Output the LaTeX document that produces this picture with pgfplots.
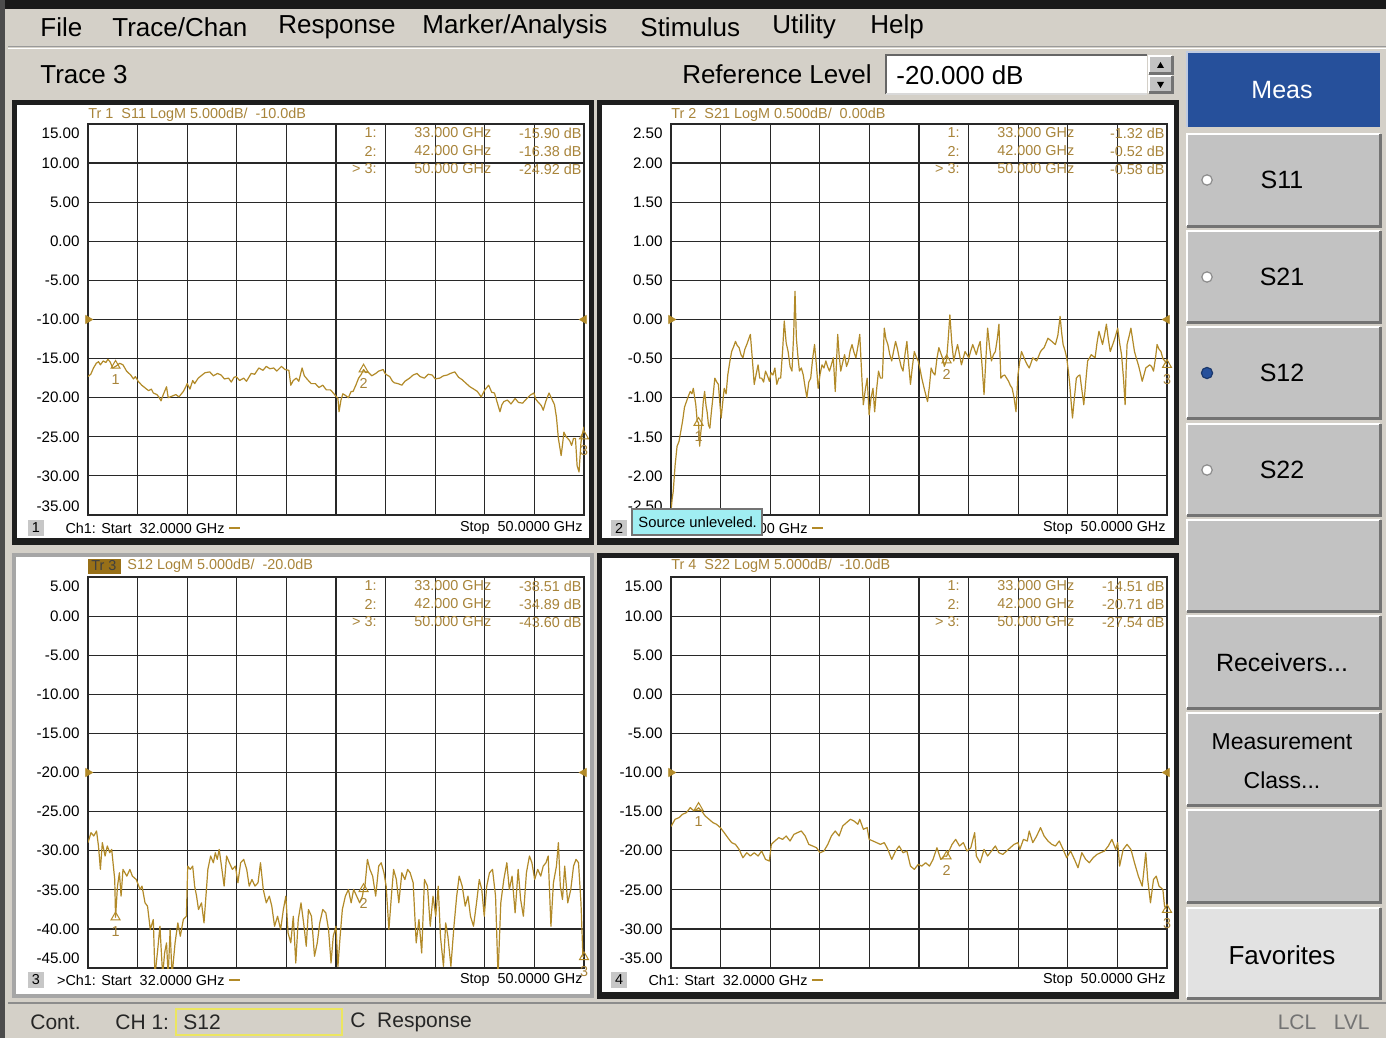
\documentclass[border=0pt]{standalone}
\usepackage{fontspec}
\setmainfont{Liberation Sans}
\usepackage{pgfplots}
\pgfplotsset{compat=1.18}
\definecolor{bg}{RGB}{212,208,200}
\definecolor{btn}{RGB}{194,194,194}
\definecolor{btnlight}{RGB}{226,226,226}
\definecolor{trc}{RGB}{178,138,40}
\definecolor{mtext}{RGB}{168,132,58}
\definecolor{measblue}{RGB}{38,80,155}
\definecolor{frm}{RGB}{30,30,30}
\definecolor{gridc}{RGB}{40,40,40}
\definecolor{hl}{RGB}{152,112,24}
\definecolor{cyanbox}{RGB}{160,238,242}
\definecolor{ylw}{RGB}{236,230,96}
\newcommand\uif{\fontsize{13}{15}\selectfont}
\newcommand\btnf{\fontsize{12.5}{14}\selectfont}
\newcommand\tkf{\fontsize{7.6}{9}\selectfont}
\newcommand\smf{\fontsize{7.2}{8.5}\selectfont}
\newcommand\stf{\fontsize{10.5}{12}\selectfont}
\newcommand\btn[5][btn]{\fill[#1] (#2,#3) rectangle (#4,#5);
  \draw[white,line width=1pt] (#2,#5) -- (#2,#3) -- (#4,#3);
  \draw[black!55,line width=1.5pt] (#2,#5) -- (#4,#5) -- (#4,#3);}
\newcommand\strip[4]{% plot x, strip y, number, prefix
  \fill[black!22] (#1-60,#2-8) rectangle (#1-44,#2+8);
  \node[font=\smf,inner sep=0pt] at (#1-52,#2) {#3};
  \node[font=\smf,inner sep=0pt,anchor=east] at (#1+137,#2) {#4Ch1: Start~~32.0000 GHz};
  \draw[trc,line width=0.8pt] (#1+141,#2) -- (#1+152,#2);
  \node[font=\smf,inner sep=0pt,anchor=east] at (#1+495,#2) {Stop~~50.0000 GHz};}
\newcommand\mtable[5]{% plot x, row1 y, values
  \begin{scope}[every node/.style={font=\smf,text=mtext,inner sep=0pt}]
  \node[anchor=east] at (#1+289,#2) {1:};
  \node[anchor=east] at (#1+289,#2+18) {2:};
  \node[anchor=east] at (#1+289,#2+36) {>~3:};
  \node[anchor=west] at (#1+326,#2) {33.000 GHz};
  \node[anchor=west] at (#1+326,#2+18) {42.000 GHz};
  \node[anchor=west] at (#1+326,#2+36) {50.000 GHz};
  \node[anchor=east] at (#1+494,#2) {#3 dB};
  \node[anchor=east] at (#1+494,#2+18) {#4 dB};
  \node[anchor=east] at (#1+494,#2+36) {#5 dB};
  \end{scope}}
\pgfplotsset{
  vna/.style={scale only axis, width=248pt, height=195.5pt, anchor=north west,
    xmin=32, xmax=50,
    xtick={33.8,35.6,37.4,39.2,41.0,42.8,44.6,46.4,48.2},
    xticklabels={},
    major tick length=0pt,
    grid=major,
    major grid style={gridc,line width=0.6pt},
    axis line style={gridc,line width=0.6pt},
    yticklabel style={font=\tkf,inner sep=0pt,xshift=-4pt},
    clip=true},
  trline/.style={trc,line width=0.6pt,no marks,line join=round},
  refl/.style={only marks,mark=triangle*,mark size=2.3pt,trc,mark options={rotate=-90}},
  refr/.style={only marks,mark=triangle*,mark size=2.3pt,trc,mark options={rotate=90}},
  mkr/.style={only marks,mark=triangle,mark size=2.6pt,trc,line width=0.5pt,
    nodes near coords,point meta=explicit symbolic,
    every node near coord/.append style={anchor=north,font=\smf,text=mtext,yshift=-1pt}}
}
\begin{document}
\begin{tikzpicture}
\begin{scope}[x=0.5pt,y=-0.5pt]
% background
\fill[bg] (0,0) rectangle (1386,1038);
\fill[black!90] (0,0) rectangle (1386,9);
\fill[black!70] (0,0) rectangle (5,1038);
% menu bar
\begin{scope}[every node/.style={font=\uif,inner sep=0pt,anchor=west}]
\node at (40,27) {File};
\node at (112,27) {Trace/Chan};
\node at (278,27) {Response};
\node at (422,27) {Marker/Analysis};
\node at (640,27) {Stimulus};
\node at (772,27) {Utility};
\node at (870,27) {Help};
\end{scope}
\draw[black!40,line width=0.5pt] (8,47) -- (1386,47);
\draw[white,line width=0.5pt] (8,48.5) -- (1386,48.5);
% toolbar
\node[font=\uif,inner sep=0pt,anchor=west] at (40,75) {Trace 3};
\node[font=\uif,inner sep=0pt,anchor=east] at (872,74) {Reference Level};
\fill[white] (886,55) rectangle (1147,94);
\draw[black!60,line width=1pt] (886,94) -- (886,55) -- (1147,55);
\draw[black!15,line width=1pt] (886,94) -- (1147,94);
\node[font=\uif,inner sep=0pt,anchor=west] at (896,75) {-20.000 dB};
\btn{1149}{56}{1172}{74}
\btn{1149}{76}{1172}{93}
\fill[black] (1157,68) -- (1164,68) -- (1160.5,62) -- cycle;
\fill[black] (1157,82) -- (1164,82) -- (1160.5,88) -- cycle;
% panel frames
\filldraw[fill=white,draw=frm,line width=2.5pt] (14.5,102.5) rectangle (591.5,542);
\filldraw[fill=white,draw=frm,line width=2.5pt] (599.5,102.5) rectangle (1176.5,542);
\filldraw[fill=white,draw=black!35,line width=2pt] (14,555) rectangle (592,996);
\filldraw[fill=white,draw=frm,line width=2.5pt] (599.5,555.5) rectangle (1176.5,996);
\fill[frm] (12,538) rectangle (594,545);
\fill[frm] (597,538) rectangle (1179,545);
\fill[frm] (597,992) rectangle (1179,999);
\end{scope}

% ---------- Panel 1: S11 ----------
\begin{axis}[vna, at={(44pt,-62pt)}, ymin=-35, ymax=15,
  ytick={-30,-25,-20,-15,-10,-5,0,5,10},
  yticklabels={-30.00,-25.00,-20.00,-15.00,-10.00,-5.00,0.00,5.00,10.00}]
\addplot[trline] coordinates {
(32.00,-17.3) (32.10,-17.0) (32.20,-16.2) (32.30,-15.6) (32.38,-15.4) (32.45,-15.8)
(32.55,-15.3) (32.65,-15.5) (32.72,-15.1) (32.80,-15.4) (32.90,-16.2) (33.00,-16.0)
(33.04,-15.9) (33.15,-15.6) (33.27,-15.8) (33.40,-16.6) (33.55,-17.1) (33.65,-17.6)
(33.72,-17.3) (33.82,-17.9) (33.95,-18.4) (34.09,-18.8) (34.20,-19.1) (34.30,-18.9)
(34.37,-19.4) (34.50,-19.6) (34.57,-19.9) (34.65,-20.4) (34.72,-19.7) (34.78,-19.2)
(34.85,-18.6) (34.91,-20.0) (35.05,-19.8) (35.19,-19.6) (35.30,-19.9) (35.46,-19.2)
(35.55,-18.6) (35.60,-18.2) (35.70,-18.9) (35.80,-17.8) (35.87,-18.2) (36.00,-17.5)
(36.14,-17.1) (36.25,-16.8) (36.42,-16.7) (36.55,-17.2) (36.70,-16.9) (36.83,-17.1)
(36.95,-17.6) (37.10,-17.5) (37.20,-18.0) (37.30,-17.4) (37.38,-17.3) (37.50,-17.8)
(37.65,-17.5) (37.75,-17.9) (37.92,-16.9) (38.05,-17.0) (38.20,-16.2) (38.35,-16.5)
(38.47,-16.0) (38.60,-16.3) (38.74,-16.2) (38.85,-16.6) (39.02,-16.0) (39.15,-16.4)
(39.29,-16.5) (39.36,-18.4) (39.45,-17.8) (39.56,-17.5) (39.65,-17.9) (39.77,-16.2)
(39.85,-17.2) (39.97,-17.7) (40.10,-18.2) (40.25,-18.2) (40.38,-18.7) (40.52,-18.4)
(40.65,-19.0) (40.80,-19.0) (40.95,-19.6) (41.07,-20.1) (41.11,-21.8) (41.18,-20.3)
(41.25,-19.5) (41.34,-19.7) (41.45,-20.0) (41.55,-19.2) (41.62,-19.2) (41.72,-18.4)
(41.82,-17.5) (41.92,-17.0) (42.00,-16.4) (42.08,-16.8) (42.16,-16.7) (42.30,-17.2)
(42.44,-16.9) (42.55,-16.6) (42.71,-16.4) (42.78,-16.9) (42.85,-17.1) (42.95,-17.3)
(43.05,-17.9) (43.12,-18.1) (43.25,-18.2) (43.39,-18.4) (43.50,-17.9) (43.67,-17.5)
(43.80,-17.1) (43.94,-16.9) (44.05,-17.3) (44.21,-17.5) (44.35,-17.0) (44.49,-17.1)
(44.60,-17.6) (44.76,-17.5) (44.90,-17.2) (45.04,-17.1) (45.15,-16.9) (45.31,-16.7)
(45.45,-17.4) (45.58,-17.7) (45.70,-18.1) (45.86,-18.6) (46.00,-18.9) (46.13,-19.2)
(46.27,-19.9) (46.40,-19.0) (46.54,-18.4) (46.65,-19.3) (46.75,-19.4) (46.85,-20.6)
(46.95,-21.8) (47.02,-20.9) (47.09,-20.5) (47.22,-20.3) (47.35,-20.8) (47.50,-20.1)
(47.62,-20.6) (47.77,-20.7) (47.90,-20.2) (48.04,-19.7) (48.18,-19.4) (48.25,-20.2)
(48.32,-20.5) (48.45,-21.0) (48.52,-21.6) (48.62,-20.4) (48.73,-19.4) (48.85,-20.3)
(48.93,-20.9) (49.00,-22.5) (49.07,-25.2) (49.17,-27.4) (49.22,-26.0) (49.27,-24.4)
(49.35,-25.0) (49.41,-25.2) (49.48,-25.5) (49.55,-26.1) (49.62,-25.2) (49.69,-25.2)
(49.75,-28.7) (49.82,-29.5) (49.89,-25.7) (49.95,-24.5) (50.00,-23.7)};
\addplot[mkr] table[meta=l,row sep=\\] {x y l\\ 33 -15.90 1\\ 42 -16.38 2\\ 50 -24.92 3\\};
\addplot[refl] coordinates {(32,-10)};
\addplot[refr] coordinates {(50,-10)};
\end{axis}

% ---------- Panel 2: S21 ----------
\begin{axis}[vna, at={(335.5pt,-62pt)}, ymin=-2.5, ymax=2.5,
  ytick={-2,-1.5,-1,-0.5,0,0.5,1,1.5,2},
  yticklabels={-2.00,-1.50,-1.00,-0.50,0.00,0.50,1.00,1.50,2.00}]
\addplot[trline] coordinates {
(32.00,-2.45) (32.04,-2.30) (32.08,-2.20) (32.15,-1.86) (32.22,-1.62) (32.29,-1.56)
(32.36,-1.42) (32.42,-1.30) (32.49,-1.12) (32.56,-1.05) (32.63,-0.98) (32.70,-0.92)
(32.76,-0.95) (32.81,-0.88) (32.86,-1.00) (32.90,-1.09) (32.95,-1.30) (33.00,-1.32)
(33.04,-1.62) (33.08,-1.45) (33.11,-1.35) (33.17,-1.05) (33.22,-0.92) (33.27,-1.10)
(33.31,-1.18) (33.36,-1.35) (33.41,-1.39) (33.46,-1.20) (33.52,-1.00) (33.59,-0.75)
(33.66,-0.80) (33.72,-0.83) (33.78,-1.10) (33.82,-1.26) (33.88,-1.05) (33.93,-0.88)
(34.00,-0.95) (34.06,-0.71) (34.13,-0.55) (34.20,-0.41) (34.27,-0.35) (34.34,-0.28)
(34.40,-0.33) (34.47,-0.36) (34.54,-0.45) (34.61,-0.49) (34.68,-0.38) (34.75,-0.32)
(34.82,-0.25) (34.88,-0.19) (34.95,-0.50) (35.02,-0.83) (35.09,-0.70) (35.16,-0.58)
(35.22,-0.75) (35.29,-0.75) (35.36,-0.80) (35.43,-0.66) (35.50,-0.72) (35.57,-0.79)
(35.63,-0.68) (35.70,-0.71) (35.77,-0.62) (35.84,-0.83) (35.91,-0.75) (35.98,-0.75)
(36.05,-0.40) (36.11,-0.02) (36.18,-0.30) (36.25,-0.41) (36.32,-0.60) (36.39,-0.66)
(36.45,-0.20) (36.50,0.36) (36.55,-0.24) (36.60,-0.45) (36.66,-0.66) (36.73,-0.62)
(36.80,-0.71) (36.86,-0.85) (36.93,-1.00) (37.00,-0.80) (37.07,-0.75) (37.14,-0.50)
(37.21,-0.32) (37.28,-0.60) (37.34,-0.88) (37.41,-0.70) (37.48,-0.58) (37.55,-0.62)
(37.62,-0.53) (37.68,-0.60) (37.75,-0.66) (37.82,-0.58) (37.89,-0.49) (37.96,-0.92)
(38.05,-0.19) (38.10,-0.45) (38.16,-0.66) (38.23,-0.55) (38.30,-0.45) (38.37,-0.60)
(38.44,-0.53) (38.50,-0.40) (38.57,-0.32) (38.64,-0.42) (38.71,-0.49) (38.78,-0.35)
(38.85,-0.19) (38.92,-0.70) (38.98,-1.09) (39.05,-0.90) (39.12,-0.75) (39.19,-1.22)
(39.26,-1.00) (39.33,-0.88) (39.39,-1.18) (39.46,-0.90) (39.53,-0.66) (39.60,-0.75)
(39.67,-0.75) (39.74,-0.11) (39.80,-0.25) (39.87,-0.32) (39.94,-0.45) (40.01,-0.53)
(40.08,-0.40) (40.15,-0.28) (40.22,-0.38) (40.28,-0.49) (40.35,-0.60) (40.42,-0.66)
(40.49,-0.45) (40.56,-0.28) (40.62,-0.55) (40.69,-0.83) (40.76,-0.60) (40.83,-0.41)
(40.90,-0.48) (40.97,-0.53) (41.03,-0.62) (41.10,-0.75) (41.20,-0.90) (41.31,-1.05)
(41.38,-0.85) (41.44,-0.62) (41.51,-0.68) (41.58,-0.71) (41.65,-0.50) (41.72,-0.36)
(41.78,-0.42) (41.85,-0.49) (41.92,-0.60) (42.00,-0.52) (42.06,-0.25) (42.12,0.06)
(42.19,-0.30) (42.26,-0.53) (42.33,-0.42) (42.40,-0.32) (42.47,-0.45) (42.54,-0.58)
(42.60,-0.50) (42.67,-0.41) (42.74,-0.45) (42.81,-0.49) (42.88,-0.40) (42.95,-0.32)
(43.01,-0.38) (43.08,-0.45) (43.15,-0.35) (43.22,-0.28) (43.29,-0.60) (43.36,-0.96)
(43.42,-0.55) (43.49,-0.11) (43.56,-0.35) (43.63,-0.53) (43.70,-0.45) (43.77,-0.41)
(43.84,-0.25) (43.90,-0.06) (43.97,-0.75) (44.04,-0.72) (44.11,-0.71) (44.18,-0.75)
(44.25,-0.79) (44.31,-0.84) (44.38,-0.88) (44.45,-1.00) (44.52,-1.18) (44.59,-0.71)
(44.65,-0.55) (44.72,-0.41) (44.79,-0.47) (44.86,-0.53) (44.93,-0.58) (45.00,-0.62)
(45.07,-0.55) (45.13,-0.49) (45.20,-0.51) (45.27,-0.53) (45.34,-0.47) (45.41,-0.41)
(45.48,-0.38) (45.54,-0.36) (45.61,-0.30) (45.68,-0.24) (45.75,-0.26) (45.82,-0.28)
(45.88,-0.30) (45.95,-0.32) (46.04,-0.20) (46.12,0.04) (46.18,-0.18) (46.23,-0.32)
(46.30,-0.40) (46.36,-0.49) (46.42,-0.66) (46.47,-0.83) (46.52,-1.05) (46.57,-1.26)
(46.64,-1.00) (46.71,-0.75) (46.78,-0.72) (46.84,-0.71) (46.91,-0.90) (46.98,-1.09)
(47.05,-0.80) (47.12,-0.53) (47.19,-0.49) (47.25,-0.45) (47.32,-0.47) (47.39,-0.49)
(47.46,-0.30) (47.53,-0.15) (47.60,-0.24) (47.66,-0.32) (47.73,-0.20) (47.80,-0.06)
(47.87,-0.25) (47.94,-0.41) (48.00,-0.35) (48.07,-0.28) (48.14,-0.20) (48.21,-0.11)
(48.28,-0.30) (48.35,-0.45) (48.42,-0.75) (48.48,-1.09) (48.52,-0.60) (48.55,-0.32)
(48.62,-0.22) (48.69,-0.11) (48.75,-0.25) (48.82,-0.41) (48.89,-0.50) (48.96,-0.58)
(49.03,-0.68) (49.10,-0.79) (49.17,-0.70) (49.23,-0.62) (49.30,-0.60) (49.37,-0.58)
(49.44,-0.60) (49.51,-0.66) (49.58,-0.50) (49.64,-0.32) (49.71,-0.38) (49.78,-0.41)
(49.85,-0.50) (49.92,-0.53) (50.00,-0.58)};
\addplot[mkr] table[meta=l,row sep=\\] {x y l\\ 33 -1.32 1\\ 42 -0.52 2\\ 50 -0.58 3\\};
\addplot[refl] coordinates {(32,0)};
\addplot[refr] coordinates {(50,0)};
\end{axis}

% ---------- Panel 3: S12 ----------
\begin{axis}[vna, at={(44pt,-288.5pt)}, ymin=-45, ymax=5,
  ytick={-40,-35,-30,-25,-20,-15,-10,-5,0},
  yticklabels={-40.00,-35.00,-30.00,-25.00,-20.00,-15.00,-10.00,-5.00,0.00}]
\addplot[trline] coordinates {
(32.00,-28.97) (32.11,-27.69) (32.21,-28.12) (32.31,-27.48) (32.38,-29.40) (32.45,-32.39)
(32.52,-28.97) (32.62,-30.68) (32.70,-29.40) (32.79,-30.26) (32.86,-29.83) (32.97,-33.68)
(33.00,-38.51) (33.07,-34.53) (33.14,-32.82) (33.20,-35.81) (33.27,-32.39) (33.41,-33.25)
(33.52,-32.39) (33.61,-33.25) (33.75,-33.68) (33.89,-34.96) (33.96,-34.53) (34.07,-36.67)
(34.16,-37.09) (34.26,-40.09) (34.37,-38.80) (34.43,-46.00) (34.53,-42.65) (34.61,-39.66)
(34.71,-46.00) (34.78,-43.08) (34.85,-41.79) (34.91,-46.00) (34.98,-40.09) (35.05,-46.00)
(35.16,-41.79) (35.26,-39.23) (35.35,-40.94) (35.46,-38.80) (35.57,-38.38) (35.62,-31.97)
(35.71,-32.39) (35.80,-31.97) (35.87,-34.53) (35.94,-35.81) (36.01,-37.52) (36.12,-36.67)
(36.21,-39.23) (36.28,-35.81) (36.35,-32.39) (36.45,-30.68) (36.55,-31.54) (36.62,-30.26)
(36.69,-31.11) (36.76,-29.83) (36.86,-32.39) (36.94,-34.53) (37.03,-30.68) (37.13,-31.54)
(37.24,-32.39) (37.35,-31.97) (37.44,-34.10) (37.54,-31.54) (37.65,-31.11) (37.76,-32.39)
(37.85,-34.53) (37.95,-33.68) (38.06,-34.53) (38.17,-34.10) (38.26,-31.54) (38.36,-34.96)
(38.47,-36.67) (38.58,-35.81) (38.67,-37.09) (38.77,-39.66) (38.88,-38.38) (38.99,-40.09)
(39.09,-37.52) (39.18,-35.81) (39.26,-40.51) (39.36,-41.79) (39.45,-38.38) (39.54,-44.36)
(39.63,-38.80) (39.73,-36.67) (39.84,-39.66) (39.92,-42.22) (40.00,-37.52) (40.11,-38.38)
(40.22,-43.50) (40.32,-41.79) (40.41,-39.23) (40.52,-37.52) (40.63,-37.95) (40.73,-40.09)
(40.82,-44.36) (40.90,-40.94) (41.00,-39.66) (41.07,-44.79) (41.15,-40.94) (41.23,-37.52)
(41.34,-35.81) (41.45,-34.96) (41.55,-36.67) (41.64,-34.96) (41.75,-35.81) (41.86,-36.67)
(41.96,-35.81) (42.00,-34.89) (42.05,-34.53) (42.14,-31.11) (42.23,-32.39) (42.33,-33.25)
(42.44,-35.81) (42.55,-31.97) (42.64,-31.54) (42.74,-32.82) (42.82,-34.53) (42.92,-40.09)
(43.01,-35.81) (43.09,-32.39) (43.19,-33.68) (43.28,-36.67) (43.39,-32.82) (43.50,-33.68)
(43.60,-32.39) (43.69,-32.82) (43.80,-34.10) (43.91,-41.79) (44.01,-38.80) (44.11,-43.08)
(44.21,-33.68) (44.32,-34.53) (44.42,-39.66) (44.52,-35.81) (44.62,-38.38) (44.71,-34.53)
(44.79,-40.94) (44.90,-44.79) (44.98,-39.23) (45.06,-40.94) (45.17,-44.79) (45.28,-39.66)
(45.38,-35.81) (45.47,-33.25) (45.58,-34.53) (45.69,-37.09) (45.79,-35.81) (45.88,-38.38)
(45.99,-39.66) (46.10,-36.67) (46.20,-33.68) (46.29,-34.96) (46.38,-38.38) (46.47,-34.53)
(46.57,-32.82) (46.68,-32.39) (46.79,-35.81) (46.88,-46.00) (46.98,-36.67) (47.09,-33.68)
(47.20,-31.54) (47.29,-34.96) (47.39,-33.25) (47.50,-37.95) (47.61,-32.39) (47.70,-36.24)
(47.80,-38.38) (47.91,-32.82) (48.02,-30.68) (48.11,-31.54) (48.21,-33.68) (48.32,-32.39)
(48.43,-33.25) (48.52,-31.97) (48.62,-31.54) (48.70,-30.68) (48.80,-39.66) (48.89,-34.10)
(49.00,-31.97) (49.07,-28.97) (49.14,-34.53) (49.22,-36.24) (49.30,-31.97) (49.41,-36.67)
(49.52,-34.96) (49.62,-31.97) (49.71,-31.11) (49.80,-31.54) (49.89,-36.67) (49.96,-43.50)
(50.00,-43.60)};
\addplot[mkr] table[meta=l,row sep=\\] {x y l\\ 33 -38.51 1\\ 42 -34.89 2\\ 50 -43.60 3\\};
\addplot[refl] coordinates {(32,-20)};
\addplot[refr] coordinates {(50,-20)};
\end{axis}

% ---------- Panel 4: S22 ----------
\begin{axis}[vna, at={(335.5pt,-288.5pt)}, ymin=-35, ymax=15,
  ytick={-30,-25,-20,-15,-10,-5,0,5,10},
  yticklabels={-30.00,-25.00,-20.00,-15.00,-10.00,-5.00,0.00,5.00,10.00}]
\addplot[trline] coordinates {
(32.00,-16.90) (32.15,-15.98) (32.29,-15.77) (32.42,-15.34) (32.56,-15.13) (32.70,-14.49)
(32.83,-14.91) (32.97,-14.62) (33.00,-14.51) (33.11,-14.91) (33.24,-15.56) (33.38,-15.98)
(33.52,-16.41) (33.65,-16.62) (33.79,-17.05) (33.93,-17.69) (34.06,-18.33) (34.20,-18.97)
(34.34,-19.19) (34.47,-19.83) (34.61,-20.90) (34.75,-20.26) (34.88,-20.68) (35.02,-20.26)
(35.16,-20.68) (35.29,-20.04) (35.43,-21.11) (35.57,-21.32) (35.64,-19.19) (35.77,-18.76)
(35.91,-18.33) (36.05,-18.55) (36.18,-18.12) (36.32,-18.76) (36.46,-17.91) (36.59,-17.69)
(36.73,-17.48) (36.87,-18.12) (37.00,-19.19) (37.14,-19.40) (37.28,-19.62) (37.41,-20.26)
(37.55,-20.04) (37.69,-19.19) (37.82,-18.12) (37.96,-17.48) (38.10,-18.12) (38.23,-16.84)
(38.37,-16.41) (38.51,-15.98) (38.64,-16.20) (38.78,-16.62) (38.85,-15.98) (38.98,-17.26)
(39.12,-17.05) (39.19,-18.55) (39.33,-18.76) (39.46,-18.97) (39.60,-19.19) (39.74,-18.97)
(39.87,-19.83) (40.01,-21.11) (40.15,-20.04) (40.28,-19.40) (40.42,-20.26) (40.56,-20.04)
(40.69,-21.97) (40.83,-22.39) (40.97,-21.75) (41.10,-21.97) (41.24,-21.54) (41.38,-21.97)
(41.51,-21.11) (41.65,-19.62) (41.79,-21.11) (41.92,-20.68) (42.00,-20.71) (42.06,-20.26)
(42.20,-19.19) (42.33,-18.55) (42.47,-19.40) (42.61,-18.97) (42.74,-20.04) (42.88,-19.62)
(43.02,-17.69) (43.08,-20.68) (43.22,-21.54) (43.36,-19.83) (43.49,-20.68) (43.63,-20.04)
(43.77,-19.40) (43.90,-20.26) (44.04,-20.47) (44.18,-20.04) (44.31,-19.62) (44.45,-19.19)
(44.59,-18.97) (44.66,-19.83) (44.79,-18.55) (44.93,-18.76) (45.00,-17.48) (45.13,-18.97)
(45.27,-18.12) (45.41,-17.05) (45.54,-18.12) (45.68,-18.76) (45.82,-19.19) (45.95,-19.40)
(46.09,-18.76) (46.23,-19.83) (46.36,-20.90) (46.50,-20.04) (46.64,-21.11) (46.77,-22.18)
(46.91,-20.26) (47.05,-21.11) (47.18,-21.54) (47.32,-20.90) (47.46,-20.47) (47.59,-20.26)
(47.73,-20.04) (47.87,-19.40) (48.00,-18.55) (48.14,-19.83) (48.21,-18.97) (48.28,-21.97)
(48.41,-19.83) (48.55,-19.19) (48.69,-19.83) (48.82,-21.54) (48.96,-23.25) (49.10,-24.53)
(49.23,-20.26) (49.30,-23.68) (49.40,-26.67) (49.51,-23.68) (49.61,-23.25) (49.71,-24.53)
(49.85,-24.96) (49.91,-27.09) (50.00,-27.54)};
\addplot[mkr] table[meta=l,row sep=\\] {x y l\\ 33 -14.51 1\\ 42 -20.71 2\\ 50 -27.54 3\\};
\addplot[refl] coordinates {(32,-10)};
\addplot[refr] coordinates {(50,-10)};
\end{axis}

\begin{scope}[x=0.5pt,y=-0.5pt]
% ---------- panel texts ----------
\begin{scope}[every node/.style={font=\tkf,inner sep=0pt,anchor=east}]
\node at (80,133) {15.00}; \node at (80,506) {-35.00};
\node at (663,133) {2.50}; \node at (663,506) {-2.50};
\node at (80,586) {5.00}; \node at (80,958) {-45.00};
\node at (663,586) {15.00}; \node at (663,958) {-35.00};
\end{scope}
\begin{scope}[every node/.style={font=\smf,text=mtext,inner sep=0pt,anchor=west}]
\node at (88,115) {Tr 1~~S11 LogM 5.000dB/~~-10.0dB};
\node at (671,115) {Tr 2~~S21 LogM 0.500dB/~~0.00dB};
\node at (671,566) {Tr 4~~S22 LogM 5.000dB/~~-10.0dB};
\end{scope}
\fill[hl] (88,559) rectangle (121,574);
\node[font=\smf,inner sep=0pt,anchor=west,text=black!75] at (91,566) {Tr 3};
\node[font=\smf,inner sep=0pt,anchor=west,text=mtext] at (127,566) {S12 LogM 5.000dB/~~-20.0dB};
\mtable{88}{133}{-15.90}{-16.38}{-24.92}
\mtable{671}{133}{-1.32}{-0.52}{-0.58}
\mtable{88}{586}{-38.51}{-34.89}{-43.60}
\mtable{671}{586}{-14.51}{-20.71}{-27.54}
\strip{88}{528}{1}{}
\strip{671}{528}{2}{}
\strip{88}{980}{3}{>}
\strip{671}{980}{4}{}
\filldraw[fill=cyanbox,draw=black!55,line width=0.8pt] (632,509) rectangle (762,535);
\node[font=\fontsize{7.4}{9}\selectfont,inner sep=0pt,anchor=west] at (638,522) {Source unleveled.};

% ---------- right buttons ----------
\fill[measblue] (1187,52) rectangle (1380,127);
\draw[white!70!measblue,line width=1pt] (1187,127) -- (1187,52) -- (1380,52);
\node[font=\btnf,text=white] at (1282,90) {Meas};
\btn{1187}{134}{1380}{226}
\btn{1187}{231}{1380}{322}
\btn{1187}{327}{1380}{418}
\btn{1187}{424}{1380}{515}
\btn{1187}{520}{1380}{611}
\btn{1187}{616}{1380}{708}
\btn{1187}{713}{1380}{805}
\btn{1187}{810}{1380}{902}
\btn[btnlight]{1187}{908}{1380}{998}
\foreach \yy in {180,277,470}{
  \filldraw[fill=white,draw=black!45,line width=0.6pt] (1207,\yy) circle [radius=2.6pt];}
\filldraw[fill=measblue,draw=measblue!70!black,line width=0.6pt] (1207,373) circle [radius=2.8pt];
\begin{scope}[every node/.style={font=\btnf,inner sep=0pt}]
\node at (1282,180) {S11};
\node at (1282,277) {S21};
\node at (1282,373) {S12};
\node at (1282,470) {S22};
\node at (1282,663) {Receivers...};
\node[font=\fontsize{11.5}{13}\selectfont] at (1282,742) {Measurement};
\node[font=\fontsize{11.5}{13}\selectfont] at (1282,780) {Class...};
\node[font=\fontsize{13}{15}\selectfont] at (1282,955) {Favorites};
\end{scope}

% ---------- status bar ----------
\draw[black!45,line width=0.6pt] (8,1003) -- (1386,1003);
\draw[ylw,line width=1.2pt] (176,1009) rectangle (342,1035);
\begin{scope}[every node/.style={font=\stf,inner sep=0pt,anchor=west,text=black!85}]
\node at (30,1022) {Cont.};
\node at (115,1022) {CH 1:};
\node at (183,1022) {S12};
\node at (350,1022) {C~~Response};
\node[anchor=east,text=black!55] at (1370,1022) {LCL~~~LVL};
\end{scope}
\end{scope}

\pgfresetboundingbox
\path (0pt,0pt) rectangle (693pt,-519pt);
\end{tikzpicture}
\end{document}
